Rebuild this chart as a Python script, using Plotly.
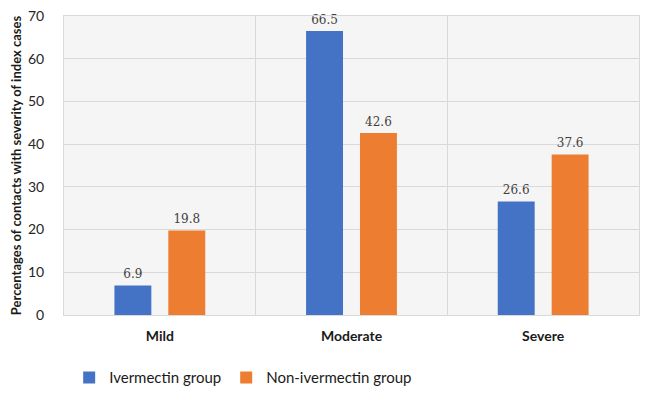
import plotly.graph_objects as go

categories = ["Mild", "Moderate", "Severe"]
ivermectin = [6.9, 66.5, 26.6]
non_ivermectin = [19.8, 42.6, 37.6]
series_names = ["Ivermectin group", "Non-ivermectin group"]
y_ticks = [0, 10, 20, 30, 40, 50, 60, 70]

BLUE = "#4472C4"
ORANGE = "#ED7D31"
SANS = "Lato, 'Open Sans', sans-serif"
SERIF = "'DejaVu Serif', 'Liberation Serif', serif"
GAP = 0.4375

fig = go.Figure()
for name, vals, col in [(series_names[0], ivermectin, BLUE), (series_names[1], non_ivermectin, ORANGE)]:
    fig.add_trace(go.Bar(
        x=categories, y=vals, name=name, marker=dict(color=col, line=dict(width=0)),
        offsetgroup=name,
    ))
for name, vals in [(series_names[0], ivermectin), (series_names[1], non_ivermectin)]:
    fig.add_trace(go.Scatter(
        x=categories, y=vals, mode="markers+text", offsetgroup=name,
        marker=dict(size=5, opacity=0), text=[f"{v:.1f}" for v in vals],
        textposition="top center", cliponaxis=False, showlegend=False, hoverinfo="skip",
        textfont=dict(family=SERIF, size=12, color="#404040"),
    ))

fig.update_layout(
    width=640, height=388,
    margin=dict(l=56, r=9, t=8, b=81, autoexpand=False),
    paper_bgcolor="white", plot_bgcolor="#f5f5f5",
    barmode="group", bargap=GAP, bargroupgap=0.315,
    scattermode="group", scattergap=GAP,
    showlegend=True,
    legend=dict(orientation="h", x=0.009, xanchor="left", y=-0.21, yanchor="middle",
                font=dict(family=SANS, size=15, color="#1a1a1a"),
                itemwidth=30, traceorder="normal"),
    font=dict(family=SANS, color="#1a1a1a"),
)
fig.update_xaxes(
    showgrid=True, gridcolor="#d9d9d9", gridwidth=1, tickson="boundaries",
    ticks="", showline=True, linecolor="#d9d9d9", automargin=False,
    tickfont=dict(family=SANS, size=14, color="#1a1a1a", weight="bold"),
    ticklabelstandoff=8, mirror=True,
)
fig.update_yaxes(
    range=[0, 70], tickvals=y_ticks, showgrid=True, gridcolor="#d9d9d9", gridwidth=1,
    zeroline=False, showline=True, linecolor="#d9d9d9", mirror=True, automargin=False,
    ticklabeloverflow="allow",
    tickfont=dict(family=SANS, size=14, color="#262626"), ticklabelstandoff=16,
    title=dict(text="Percentages of contacts with severity of index cases",
               font=dict(family=SANS, size=13, color="#1a1a1a", weight="bold"), standoff=18),
)
fig.write_html("out.html")
